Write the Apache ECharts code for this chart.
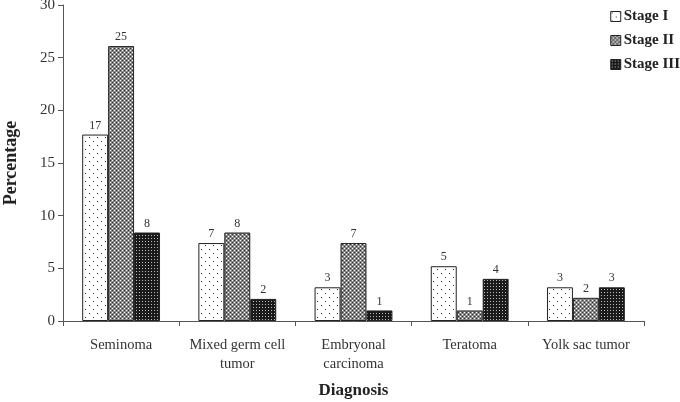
<!DOCTYPE html>
<html><head><meta charset="utf-8">
<script src="https://cdn.jsdelivr.net/npm/echarts@6/dist/echarts.min.js"></script>
<style>html,body{margin:0;padding:0;background:#fff}#c{width:680px;height:402px}</style>
</head><body><div id="c"></div>
<script>
const categories = ["Seminoma", "Mixed germ cell\ntumor", "Embryonal\ncarcinoma", "Teratoma", "Yolk sac tumor"];
const seriesNames = ["Stage I", "Stage II", "Stage III"];
const stage1 = [17.7, 7.4, 3.2, 5.2, 3.2];
const stage2 = [26.1, 8.4, 7.4, 1.0, 2.2];
const stage3 = [8.4, 2.1, 1.0, 4.0, 3.2];
const labels1 = ["17", "7", "3", "5", "3"];
const labels2 = ["25", "8", "7", "1", "2"];
const labels3 = ["8", "2", "1", "4", "3"];
const yTicks = [0, 5, 10, 15, 20, 25, 30];

function makePattern(kind) {
  const c = document.createElement('canvas');
  const ctx = c.getContext('2d');
  if (kind === 1) {
    c.width = 8; c.height = 8;
    ctx.fillStyle = '#fff'; ctx.fillRect(0, 0, 8, 8);
    ctx.fillStyle = '#333';
    ctx.fillRect(1, 1, 1, 1);
    ctx.fillRect(5, 5, 1, 1);
  } else if (kind === 2) {
    c.width = 4; c.height = 4;
    ctx.fillStyle = '#888'; ctx.fillRect(0, 0, 4, 4);
    ctx.fillStyle = '#fff';
    ctx.fillRect(0, 0, 1, 1); ctx.fillRect(2, 2, 1, 1);
    ctx.fillStyle = '#333';
    ctx.fillRect(2, 0, 1, 1); ctx.fillRect(0, 2, 1, 1);
  } else {
    c.width = 3; c.height = 3;
    ctx.fillStyle = '#1a1a1a'; ctx.fillRect(0, 0, 3, 3);
    ctx.fillStyle = '#bbb';
    ctx.fillRect(1, 1, 1, 1);
  }
  return c;
}
const pats = [makePattern(1), makePattern(2), makePattern(3)];
const datas = [stage1, stage2, stage3];
const labs = [labels1, labels2, labels3];
const font = '"Liberation Serif", "DejaVu Serif", serif';

const chart = echarts.init(document.getElementById('c'), null, {renderer: 'canvas'});
chart.setOption({
  animation: false,
  backgroundColor: '#fff',
  textStyle: {fontFamily: font},
  grid: {left: 63, right: 36, top: 5, bottom: 81, containLabel: false, outerBoundsMode: 'none'},
  legend: {
    orient: 'vertical', right: 0, top: 9, itemGap: 9, padding: 0,
    itemWidth: 10, itemHeight: 10, icon: 'rect',
    textStyle: {fontFamily: font, fontWeight: 'bold', fontSize: 15, color: '#222', padding: [0, 0, 0, -2]},
    data: seriesNames.map((n, i) => ({name: n, itemStyle: {color: {image: pats[i], repeat: 'repeat'}, borderColor: '#222', borderWidth: 1}}))
  },
  xAxis: {
    type: 'category', data: categories,
    name: 'Diagnosis', nameLocation: 'middle', nameGap: 61,
    nameTextStyle: {fontFamily: font, fontWeight: 'bold', fontSize: 17, color: '#222'},
    axisLine: {lineStyle: {color: '#555', width: 1}},
    axisTick: {show: true, alignWithLabel: false, length: 5, lineStyle: {color: '#555'}},
    axisLabel: {fontFamily: font, fontSize: 14.5, color: '#333', margin: 15, lineHeight: 19, interval: 0}
  },
  yAxis: {
    type: 'value', min: 0, max: 30, interval: 5,
    name: 'Percentage', nameLocation: 'middle', nameGap: 43,
    nameTextStyle: {fontFamily: font, fontWeight: 'bold', fontSize: 18, color: '#222'},
    axisLine: {show: true, lineStyle: {color: '#555'}},
    axisTick: {show: true, length: 5, lineStyle: {color: '#555'}},
    splitLine: {show: false},
    axisLabel: {fontFamily: font, fontSize: 15, color: '#333', margin: 8,
      formatter: v => yTicks.includes(v) ? String(v) : ''}
  },
  series: seriesNames.map((n, i) => ({
    name: n, type: 'bar', data: datas[i],
    barGap: '0%', barCategoryGap: '33%',
    itemStyle: {color: {image: pats[i], repeat: 'repeat'}, borderColor: '#222', borderWidth: 1},
    label: {show: true, position: 'top', distance: 3, fontFamily: font, fontSize: 12, color: '#333',
      formatter: p => labs[i][p.dataIndex]}
  }))
});
</script></body></html>
